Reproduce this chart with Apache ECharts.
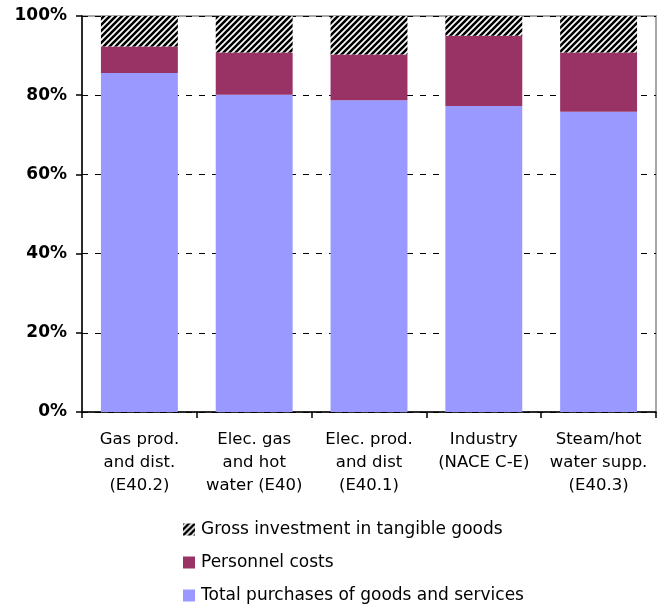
<!DOCTYPE html>
<html>
<head>
<meta charset="utf-8">
<script src="https://cdn.jsdelivr.net/npm/echarts@6/dist/echarts.min.js"></script>
<style>
  html, body { margin: 0; padding: 0; background: #fff; }
  #chart { width: 663px; height: 604px; }
</style>
</head>
<body>
<div id="chart"></div>
<script>
// Cost structure by activity, shares of total (%)
const categories = [
  'Gas prod.\nand dist.\n(E40.2)',
  'Elec. gas\nand hot\nwater (E40)',
  'Elec. prod.\nand dist\n(E40.1)',
  'Industry\n(NACE C-E)',
  'Steam/hot\nwater supp.\n(E40.3)'
];
const purchases = [85.6, 80.1, 78.7, 77.3, 75.8];
const personnel = [6.7, 10.7, 11.6, 17.7, 15.0];
const investment = [7.7, 9.2, 9.7, 5.0, 9.2];
const yTicks = [0, 20, 40, 60, 80, 100];

const seriesNames = {
  investment: 'Gross investment in tangible goods',
  personnel: 'Personnel costs',
  purchases: 'Total purchases of goods and services'
};

// Black/white diagonal hatch used for the investment segment
function makeHatch() {
  const s = 6;
  const c = document.createElement('canvas');
  c.width = s; c.height = s;
  const g = c.getContext('2d');
  g.fillStyle = '#ffffff';
  g.fillRect(0, 0, s, s);
  g.strokeStyle = '#000000';
  g.lineWidth = 2.6;
  g.beginPath();
  g.moveTo(-s, 2 * s); g.lineTo(2 * s, -s);
  g.moveTo(-2 * s, 2 * s); g.lineTo(s, -s);
  g.moveTo(0, 2 * s); g.lineTo(3 * s, -s);
  g.stroke();
  return c;
}
const hatch = { image: makeHatch(), repeat: 'repeat' };

const font = '"DejaVu Sans", Verdana, sans-serif';
const chart = echarts.init(document.getElementById('chart'), null, { renderer: 'canvas' });

chart.setOption({
  animation: false,
  textStyle: { fontFamily: font },
  grid: {
    left: 82, right: 7, top: 16, bottom: 192,
    show: true, borderColor: '#a8a8a8', borderWidth: 2, backgroundColor: 'transparent'
  },
  legend: {
    orient: 'vertical',
    left: 183, top: 521,
    padding: 0,
    itemWidth: 12, itemHeight: 12,
    itemGap: 16,
    icon: 'rect',
    data: [seriesNames.investment, seriesNames.personnel, seriesNames.purchases],
    textStyle: { fontFamily: font, fontSize: 17, color: '#000', padding: [0, 0, 0, 1] }
  },
  xAxis: {
    type: 'category',
    data: categories,
    axisLine: { lineStyle: { color: '#000', width: 1.5 } },
    axisTick: { show: true, length: 6, alignWithLabel: false, lineStyle: { color: '#000', width: 1.5 } },
    axisLabel: {
      interval: 0, margin: 16, fontSize: 16.5, lineHeight: 23, color: '#000', fontFamily: font
    }
  },
  yAxis: {
    type: 'value',
    min: yTicks[0], max: yTicks[yTicks.length - 1], interval: 20,
    axisLine: { show: true, lineStyle: { color: '#000', width: 1.5 } },
    axisTick: { show: true, length: 6, lineStyle: { color: '#000', width: 1.5 } },
    splitLine: { show: true, lineStyle: { color: '#000', type: [6, 7], width: 1 } },
    axisLabel: {
      margin: 15, fontSize: 17, fontWeight: 'bold', color: '#000', fontFamily: font,
      formatter: v => v + '%'
    }
  },
  series: [
    {
      name: seriesNames.purchases, type: 'bar', stack: 'total',
      barCategoryGap: '33%',
      data: purchases,
      itemStyle: { color: '#9999ff' }
    },
    {
      name: seriesNames.personnel, type: 'bar', stack: 'total',
      barCategoryGap: '33%',
      data: personnel,
      itemStyle: { color: '#993366' }
    },
    {
      name: seriesNames.investment, type: 'bar', stack: 'total',
      barCategoryGap: '33%',
      data: investment,
      itemStyle: { color: hatch }
    }
  ]
});
</script>
</body>
</html>
